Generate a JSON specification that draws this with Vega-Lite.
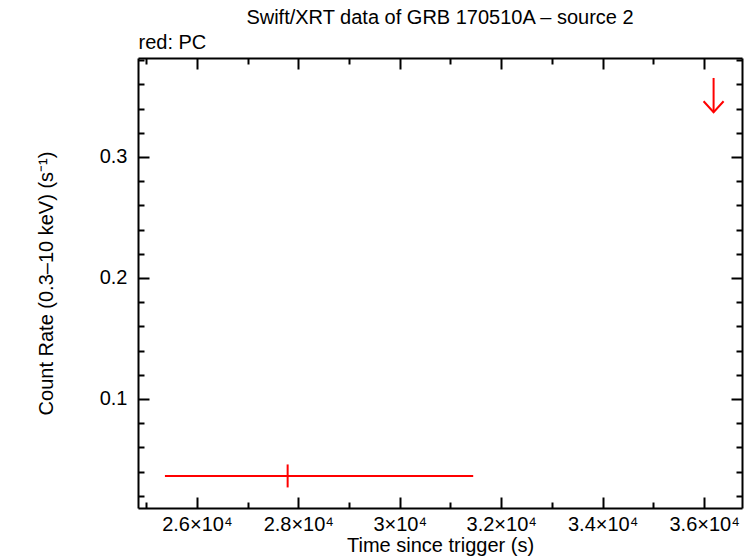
{
  "$schema": "https://vega.github.io/schema/vega-lite/v6.json",
  "width": 604,
  "height": 450,
  "autosize": "none",
  "padding": {"left": 138, "top": 58, "right": 12, "bottom": 50},
  "background": "white",
  "config": {"view": {"stroke": null}, "font": "Liberation Sans"},
  "title": {"text": "Swift/XRT data of GRB 170510A – source 2", "fontSize": 20, "fontWeight": "normal", "font": "Liberation Sans", "color": "black", "anchor": "middle", "frame": "group"},
  "datasets": {
    "det": [{"t": 27790, "tlo": 25371, "thi": 31448, "rate": 0.0364, "rlo": 0.0269, "rhi": 0.0459}],
    "ul": [{"t": 36187, "rate": 0.337, "rtop": 0.3653}]
  },
  "layer": [
    {
      "data": {"name": "det"},
      "mark": {"type": "rule", "color": "#ff0000", "strokeWidth": 2},
      "encoding": {
        "x": {"field": "tlo", "type": "quantitative",
          "scale": {"domain": [24840, 36747], "nice": false, "zero": false},
          "axis": {"orient": "bottom", "values": [25000, 26000, 27000, 28000, 29000, 30000, 31000, 32000, 33000, 34000, 35000, 36000],
            "labelExpr": "datum.value % 2000 === 0 ? (datum.value === 30000 ? '3×10⁴' : format(datum.value/10000, '.1f') + '×10⁴') : ''",
            "tickSize": {"condition": {"test": "datum.value % 2000 === 0", "value": -11}, "value": -6},
            "tickColor": "black", "tickWidth": 2, "domainColor": "black", "domainWidth": 2,
            "labelFontSize": 20, "labelColor": "black", "labelFont": "Liberation Sans", "labelPadding": 33, "labelBaseline": "alphabetic",
            "labelFlush": false, "labelOverlap": false, "labelBound": false, "grid": false,
            "title": "Time since trigger (s)", "titleFontSize": 20, "titleFontWeight": "normal", "titleColor": "black", "titleFont": "Liberation Sans",
            "titleY": 43, "titleBaseline": "alphabetic"}},
        "x2": {"field": "thi"},
        "y": {"field": "rate", "type": "quantitative",
          "scale": {"domain": [0.0099, 0.3818], "nice": false, "zero": false},
          "axis": {"orient": "left", "values": [0.02, 0.04, 0.06, 0.08, 0.1, 0.12, 0.14, 0.16, 0.18, 0.2, 0.22, 0.24, 0.26, 0.28, 0.3, 0.32, 0.34, 0.36, 0.38],
            "labelExpr": "abs(datum.value*10 - round(datum.value*10)) < 1e-6 ? format(datum.value, '.1f') : ''",
            "tickSize": {"condition": {"test": "abs(datum.value*10 - round(datum.value*10)) < 1e-6", "value": -11}, "value": -6},
            "tickColor": "black", "tickWidth": 2, "domainColor": "black", "domainWidth": 2,
            "labelFontSize": 20, "labelColor": "black", "labelFont": "Liberation Sans", "labelPadding": 22, "labelBaseline": "middle",
            "labelFlush": false, "labelOverlap": false, "labelBound": false, "grid": false,
            "title": "Count Rate (0.3–10 keV) (s⁻¹)", "titleFontSize": 20, "titleFontWeight": "normal", "titleColor": "black", "titleFont": "Liberation Sans",
            "titleX": -92, "titleY": 225, "titleAngle": -90, "titleBaseline": "middle", "titleAlign": "center"}}
      }
    },
    {
      "data": {"name": "det"},
      "mark": {"type": "rule", "color": "#ff0000", "strokeWidth": 2},
      "encoding": {
        "x": {"field": "t", "type": "quantitative", "axis": null},
        "y": {"field": "rlo", "type": "quantitative", "axis": null},
        "y2": {"field": "rhi"}
      }
    },
    {
      "data": {"name": "ul"},
      "mark": {"type": "rule", "color": "#ff0000", "strokeWidth": 2},
      "encoding": {
        "x": {"field": "t", "type": "quantitative", "axis": null},
        "y": {"field": "rate", "type": "quantitative", "axis": null},
        "y2": {"field": "rtop"}
      }
    },
    {
      "data": {"name": "ul"},
      "mark": {"type": "point", "shape": "M -1 -1.1 L 0 0 L 1 -1.1", "size": 400, "filled": false, "color": "#ff0000", "strokeWidth": 2, "opacity": 1},
      "encoding": {
        "x": {"field": "t", "type": "quantitative", "axis": null},
        "y": {"field": "rate", "type": "quantitative", "axis": null}
      }
    },
    {
      "data": {"name": "det"},
      "mark": {"type": "point", "opacity": 0},
      "encoding": {
        "x": {"field": "t", "type": "quantitative",
          "axis": {"orient": "top", "values": [25000, 26000, 27000, 28000, 29000, 30000, 31000, 32000, 33000, 34000, 35000, 36000],
            "labels": false,
            "tickSize": {"condition": {"test": "datum.value % 2000 === 0", "value": -11}, "value": -6},
            "tickColor": "black", "tickWidth": 2, "domainColor": "black", "domainWidth": 2, "grid": false,
            "title": "red: PC", "titleFontSize": 20, "titleFontWeight": "normal", "titleColor": "black", "titleFont": "Liberation Sans",
            "titleX": 0, "titleY": -10, "titleAlign": "left", "titleAnchor": "start", "titleBaseline": "alphabetic"}},
        "y": {"field": "rate", "type": "quantitative",
          "axis": {"orient": "right", "values": [0.02, 0.04, 0.06, 0.08, 0.1, 0.12, 0.14, 0.16, 0.18, 0.2, 0.22, 0.24, 0.26, 0.28, 0.3, 0.32, 0.34, 0.36, 0.38],
            "labels": false,
            "tickSize": {"condition": {"test": "abs(datum.value*10 - round(datum.value*10)) < 1e-6", "value": -11}, "value": -6},
            "tickColor": "black", "tickWidth": 2, "domainColor": "black", "domainWidth": 2, "grid": false, "title": null}}
      }
    }
  ],
  "resolve": {"axis": {"x": "independent", "y": "independent"}}
}
